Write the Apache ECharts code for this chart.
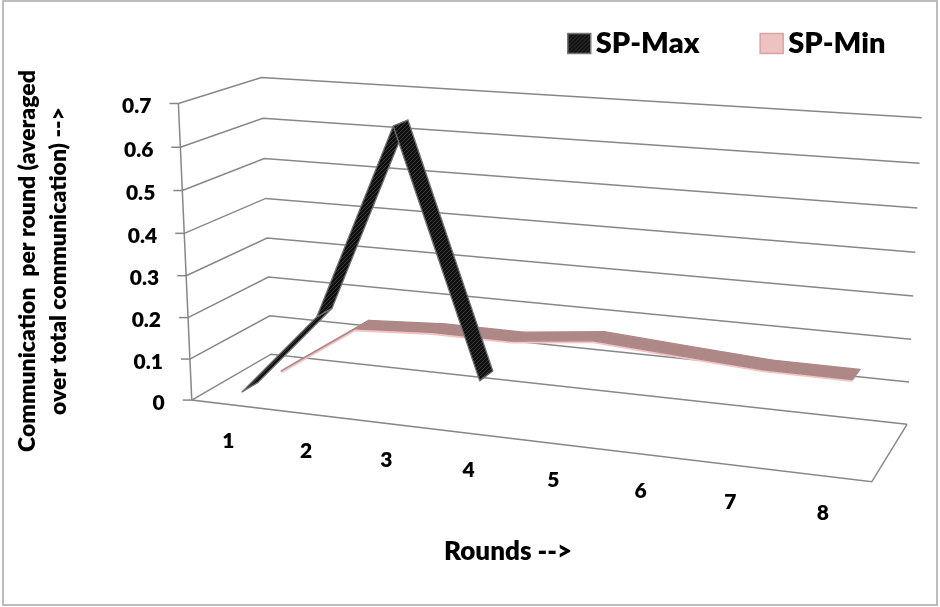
<!DOCTYPE html>
<html><head><meta charset="utf-8">
<script src="https://cdn.jsdelivr.net/npm/echarts@6/dist/echarts.min.js"></script>
<style>html,body{margin:0;padding:0;background:#fff}#c{width:940px;height:607px}</style>
</head><body><div id="c"></div>
<script>
const categories = ['1', '2', '3', '4', '5', '6', '7', '8'];
const spMax = [0.013, 0.215, 0.67, 0.105];
const spMin = [0.007, 0.133, 0.144, 0.143, 0.164, 0.150, 0.137, 0.136];
const yTicks = [0, 0.1, 0.2, 0.3, 0.4, 0.5, 0.6, 0.7];
const yTickLabels = ['0', '0.1', '0.2', '0.3', '0.4', '0.5', '0.6', '0.7'];
const seriesNames = ['SP-Max', 'SP-Min'];
const yTitle = 'Communication  per round (averaged\nover total communication) -->';
const xTitle = 'Rounds -->';

// ---- 3D view (layout only): screen anchors of the plot box walls [u, v, w, x, y]
const frontLeft = [[191.7,400],[190,358.3],[188.2,317.7],[186.2,276],[184.2,233.3],[182.3,190.7],[180.3,147.3],[178.3,103.3]];
const backLeft = [[270.7,355],[270,315.7],[268.3,276.7],[267.3,238.3],[266,197.7],[264,159],[262.7,118.3],[261.7,77.3]];
const backRight = [[906.7,424],[909.3,381.7],[911.3,339],[913.3,296],[915.3,252.3],[917.3,208],[919.3,163.3],[921.7,117.7]];
const anchors = [];
for (let k = 0; k < 8; k++) {
  anchors.push([0, k/7, 0, frontLeft[k][0], frontLeft[k][1]]);
  anchors.push([0, k/7, 1, backLeft[k][0], backLeft[k][1]]);
  anchors.push([1, k/7, 1, backRight[k][0], backRight[k][1]]);
}
anchors.push([1, 0, 0, 871.7, 482.3]);

function fitCamera(pts) {
  const N = 11, M = [], B = new Array(N).fill(0);
  for (let i = 0; i < N; i++) M.push(new Array(N).fill(0));
  function add(row, rhs) { for (let i = 0; i < N; i++) { B[i] += row[i]*rhs; for (let j = 0; j < N; j++) M[i][j] += row[i]*row[j]; } }
  pts.forEach(([u,v,w,x,y]) => {
    add([u,v,w,1,0,0,0,0,-x*u,-x*v,-x*w], x);
    add([0,0,0,0,u,v,w,1,-y*u,-y*v,-y*w], y);
  });
  for (let c = 0; c < N; c++) {
    let p = c;
    for (let r = c+1; r < N; r++) if (Math.abs(M[r][c]) > Math.abs(M[p][c])) p = r;
    [M[c], M[p]] = [M[p], M[c]]; [B[c], B[p]] = [B[p], B[c]];
    for (let r = 0; r < N; r++) {
      if (r === c) continue;
      const f = M[r][c]/M[c][c];
      for (let k = c; k < N; k++) M[r][k] -= f*M[c][k];
      B[r] -= f*B[c];
    }
  }
  return B.map((b, i) => b/M[i][i]);
}
const cam = fitCamera(anchors);
function P(u, v, w) {
  const d = cam[8]*u + cam[9]*v + cam[10]*w + 1;
  return [(cam[0]*u + cam[1]*v + cam[2]*w + cam[3])/d, (cam[4]*u + cam[5]*v + cam[6]*w + cam[7])/d];
}
function uv(params, api, x, y) {
  const cs = params.coordSys; const p = api.coord([x, y]);
  return [(p[0]-cs.x)/cs.width, (cs.y+cs.height-p[1])/cs.height];
}

const FONT = 'Lato, "Open Sans", sans-serif';
const W = '800';
const gridColor = '#878787';

function stripes() {
  const c = document.createElement('canvas'); c.width = 4; c.height = 4;
  const g = c.getContext('2d');
  g.fillStyle = '#101010'; g.fillRect(0, 0, 4, 4);
  g.strokeStyle = '#3a3a3a'; g.lineWidth = 1;
  g.beginPath(); g.moveTo(0, 4); g.lineTo(4, 0); g.moveTo(-1, 1); g.lineTo(1, -1); g.moveTo(3, 5); g.lineTo(5, 3); g.stroke();
  return c;
}
const hatch = { image: stripes(), repeat: 'repeat' };

function frameItem(params, api) {
  const idx = params.dataIndex;
  const v = uv(params, api, 0, api.value(1))[1];
  const a = P(0, v, 0), b = P(0, v, 1), c = P(1, v, 1);
  const ch = [];
  ch.push({ type: 'polyline', shape: { points: [a, b, c] }, style: { stroke: gridColor, lineWidth: 1.5, fill: null } });
  ch.push({ type: 'line', shape: { x1: a[0]-9, y1: a[1], x2: a[0], y2: a[1] }, style: { stroke: gridColor, lineWidth: 1.5 } });
  ch.push({ type: 'text', x: a[0]-27, y: a[1]+3, style: { text: yTickLabels[idx], align: 'right', verticalAlign: 'middle', font: W + ' 21px ' + FONT, fill: '#000' } });
  if (idx === 0) {
    const top = P(0, 1, 0), fr = P(1, 0, 0), br = P(1, 0, 1);
    ch.push({ type: 'polyline', shape: { points: [top, a, fr, br] }, style: { stroke: gridColor, lineWidth: 1.5, fill: null } });
  }
  return { type: 'group', children: ch };
}

function catItem(params, api) {
  const u = uv(params, api, api.value(0), 0)[0];
  const p = P(u, 0, 0);
  return { type: 'text', x: p[0]-1.5, y: p[1]+37, style: { text: categories[params.dataIndex], align: 'center', verticalAlign: 'middle', font: W + ' 21px ' + FONT, fill: '#000' } };
}

function ribbon(w0, w1, topFill, underFill, edgeTop, edgeUnder, lowEdge) {
  return function (params, api) {
    const A = uv(params, api, api.value(0), api.value(1));
    const B = uv(params, api, api.value(2), api.value(3));
    const a0 = P(A[0], A[1], w0), a1 = P(A[0], A[1], w1), b1 = P(B[0], B[1], w1), b0 = P(B[0], B[1], w0);
    const pts = [a0, a1, b1, b0];
    let area = 0;
    for (let i = 0; i < 4; i++) { const p = pts[i], q = pts[(i+1)%4]; area += p[0]*q[1] - q[0]*p[1]; }
    const up = area > 0;
    const ch = [];
    if (lowEdge && up) ch.push({ type: 'line', shape: { x1: a0[0], y1: a0[1]+1.3, x2: b0[0], y2: b0[1]+1.3 }, style: { stroke: lowEdge, lineWidth: 2.4 } });
    ch.push({ type: 'polygon', shape: { points: pts }, style: { fill: up ? topFill : underFill, stroke: up ? edgeTop : edgeUnder, lineWidth: 1.3, lineJoin: 'round' } });
    return { type: 'group', children: ch };
  };
}
function segs(arr) { return arr.slice(0, -1).map((v, i) => [i, v, i+1, arr[i+1]]); }

const chart = echarts.init(document.getElementById('c'), null, { renderer: 'canvas' });
chart.setOption({
  backgroundColor: '#fff',
  animation: false,
  grid: { left: 0, right: 0, top: 0, bottom: 0 },
  xAxis: { type: 'category', data: categories, boundaryGap: true, show: false },
  yAxis: { type: 'value', min: 0, max: 0.7, interval: 0.1, show: false },
  legend: {
    left: 567, top: 29, padding: 0, itemWidth: 23, itemHeight: 20, itemGap: 60, itemTextGap: 4, icon: 'rect',
    textStyle: { fontFamily: FONT, fontWeight: W, fontSize: 29, color: '#000' },
    data: [
      { name: seriesNames[0], itemStyle: { color: hatch, borderColor: '#777', borderWidth: 1.5 } },
      { name: seriesNames[1], itemStyle: { color: '#efc2c2', borderColor: '#d6a4a4', borderWidth: 1.5 } }
    ]
  },
  graphic: [
    { type: 'rect', shape: { x: 3, y: 1, width: 934, height: 604 }, style: { fill: null, stroke: '#a6a6a6', lineWidth: 1.5 }, silent: true },
    { type: 'text', x: 43, y: 261, rotation: Math.PI/2, style: { text: yTitle, font: W + ' 23px ' + FONT, align: 'center', verticalAlign: 'middle', lineHeight: 31, fill: '#000' } },
    { type: 'text', x: 508, y: 552, style: { text: xTitle, font: W + ' 26px ' + FONT, align: 'center', verticalAlign: 'middle', fill: '#000' } }
  ],
  series: [
    { type: 'custom', name: 'frame', silent: true, z: 1, data: yTicks.map(t => [0, t]), renderItem: frameItem },
    { type: 'custom', name: 'cats', silent: true, z: 1, data: categories.map((c, i) => [i, 0]), renderItem: catItem },
    { type: 'custom', name: seriesNames[1], z: 2, itemStyle: { color: '#efc2c2' }, data: segs(spMin), encode: { x: [0, 2], y: [1, 3] },
      renderItem: ribbon(0.65, 0.85, '#ae8886', '#f0bcbc', '#ae8886', '#eab4b4', '#f3c4c4') },
    { type: 'custom', name: seriesNames[0], z: 3, itemStyle: { color: '#2a2a2a' }, data: segs(spMax), encode: { x: [0, 2], y: [1, 3] },
      renderItem: ribbon(0.15, 0.35, hatch, hatch, '#707070', '#707070', null) }
  ]
});
</script></body></html>
